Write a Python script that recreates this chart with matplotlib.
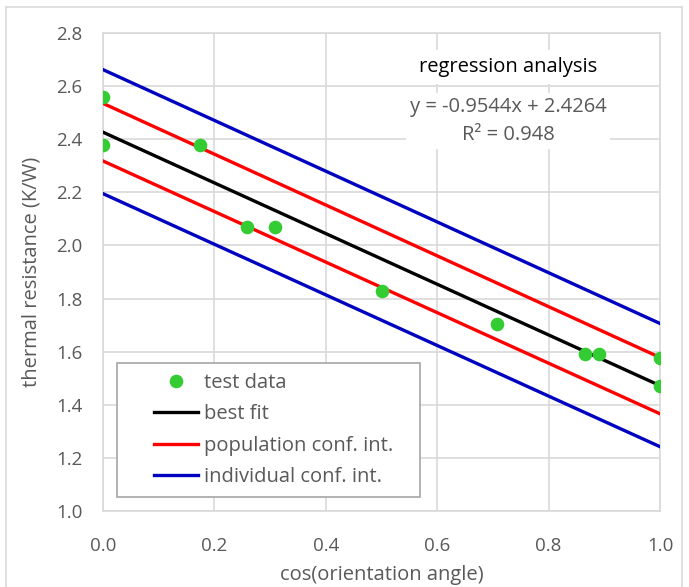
import numpy as np
import matplotlib
matplotlib.use('Agg')
import matplotlib.pyplot as plt
from matplotlib.patches import Rectangle

# test data (cos of orientation angle vs. thermal resistance)
cos_angle = [0.0, 0.0, 0.174, 0.259, 0.309, 0.5, 0.707, 0.866, 0.891, 1.0, 1.0]
resistance = [2.56, 2.38, 2.38, 2.07, 2.07, 1.83, 1.705, 1.59, 1.59, 1.575, 1.47]

# regression lines, evaluated at the ends of the axis
x_ends = [0.0, 1.0]
best_fit = [2.4264, 1.4720]
pop_upper = [2.535, 1.578]
pop_lower = [2.318, 1.366]
ind_upper = [2.662, 1.706]
ind_lower = [2.195, 1.242]

equation = "y = -0.9544x + 2.4264"
r_squared = "R\u00b2 = 0.948"

GREY = '#595959'
GRID = '#d9d9d9'
FS = 14.5
plt.rcParams['font.family'] = ['Open Sans', 'DejaVu Sans']

fig = plt.figure(figsize=(6.89, 5.87), dpi=100)
# outer chart border (bottom edge falls outside the picture)
fig.patches.append(Rectangle((0.009, -0.05), 0.981, 1.038, transform=fig.transFigure,
                             fill=False, edgecolor=GRID, linewidth=1.2))
ax = fig.add_axes([0.1495, 0.1295, 0.8085, 0.8143])

ax.plot(cos_angle, resistance, 'o', color='#33cc33', markersize=8.8, label='test data', zorder=5)
ax.plot(x_ends, best_fit, color='black', lw=2.4, label='best fit', zorder=4)
ax.plot(x_ends, pop_upper, color='#ff0000', lw=2.4, label='population conf. int.', zorder=3)
ax.plot(x_ends, pop_lower, color='#ff0000', lw=2.4, zorder=3)
ax.plot(x_ends, ind_upper, color='#0000c0', lw=2.4, label='individual conf. int.', zorder=3)
ax.plot(x_ends, ind_lower, color='#0000c0', lw=2.4, zorder=3)

ax.set_xlim(0, 1.0)
ax.set_ylim(1.0, 2.8)
ax.set_xticks(np.arange(0, 1.01, 0.2))
ax.set_yticks(np.arange(1.0, 2.81, 0.2))
ax.xaxis.set_major_formatter(matplotlib.ticker.FormatStrFormatter('%.1f'))
ax.yaxis.set_major_formatter(matplotlib.ticker.FormatStrFormatter('%.1f'))
ax.grid(True, color=GRID, lw=1.2)
ax.set_axisbelow(True)
for s in ax.spines.values():
    s.set_color(GRID)
    s.set_linewidth(1.2)
ax.tick_params(length=0, labelsize=13.5, labelcolor=GREY)
ax.tick_params(axis='y', pad=15)
ax.tick_params(axis='x', pad=19)

ax.set_xlabel('cos(orientation angle)', fontsize=FS, color=GREY, labelpad=7)
ax.set_ylabel('thermal resistance (K/W)', fontsize=FS, color=GREY, labelpad=10)

ax.text(0.727, 0.928, 'regression analysis', transform=ax.transAxes, ha='center', va='center',
        fontsize=FS, color='black',
        bbox=dict(boxstyle='square,pad=0.35', facecolor='white', edgecolor='none'))
ax.text(0.727, 0.816, equation + '\n' + r_squared, transform=ax.transAxes, ha='center',
        va='center', fontsize=FS, color=GREY, linespacing=1.5,
        bbox=dict(boxstyle='square,pad=0.2', facecolor='white', edgecolor='none'))

# legend frame drawn separately so the box can be wider than the entries
ax.add_patch(Rectangle((0.025, 0.029), 0.544, 0.281, transform=ax.transAxes,
                       facecolor='white', edgecolor='#a6a6a6', lw=1.2, zorder=6))
leg = ax.legend(loc='lower left', bbox_to_anchor=(0.091, 0.05), fontsize=FS, frameon=False,
                handlelength=2.2, handletextpad=0.3, borderpad=0, labelspacing=0.57,
                borderaxespad=0)
leg.set_zorder(7)
for t in leg.get_texts():
    t.set_color(GREY)

plt.savefig('out.png', dpi=100)
plt.close()
